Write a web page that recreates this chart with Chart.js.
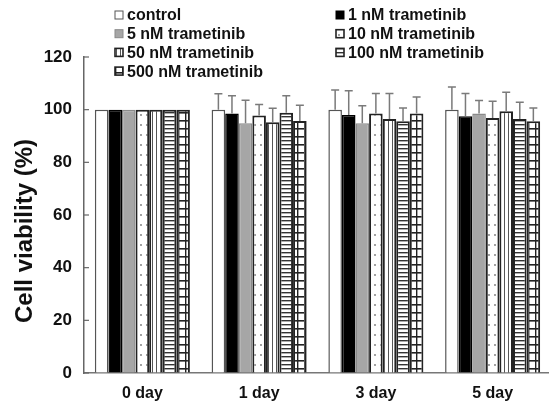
<!DOCTYPE html>
<html>
<head>
<meta charset="utf-8">
<script src="https://cdn.jsdelivr.net/npm/chart.js@4.4.1/dist/chart.umd.min.js"></script>
<style>
  html, body { margin: 0; padding: 0; background: #fff; overflow: hidden; }
  #wrap { width: 560px; height: 407px; }
</style>
</head>
<body>
<div id="wrap"><canvas id="viability-chart" width="560" height="407"></canvas></div>
<script>
// Data (mean and upper SD, % of control)
const categories = ['0 day', '1 day', '3 day', '5 day'];
const seriesLabels = ['control', '1 nM trametinib', '5 nM trametinib', '10 nM trametinib',
                      '50 nM trametinib', '100 nM trametinib', '500 nM trametinib'];

const control   = [100, 100, 100, 100];
const nM1       = [100, 98.5, 98.0, 97.5];
const nM5       = [100, 94.8, 94.8, 98.5];
const nM10      = [100, 97.8, 98.5, 96.8];
const nM50      = [100, 95.2, 96.5, 99.4];
const nM100     = [100, 98.8, 95.6, 96.5];
const nM500     = [100, 95.7, 98.5, 95.6];

const controlErr = [0, 6.0, 7.5, 8.6];
const nM1Err     = [0, 6.8, 9.2, 8.6];
const nM5Err     = [0, 8.8, 6.7, 5.0];
const nM10Err    = [0, 4.2, 7.6, 6.4];
const nM50Err    = [0, 5.3, 9.6, 7.2];
const nM100Err   = [0, 6.5, 5.0, 6.3];
const nM500Err   = [0, 6.0, 6.3, 5.0];

const yTicks = { min: 0, max: 120, step: 20 };

// pattern fills for the hatched bars
function makePattern(kind) {
    const c = document.createElement('canvas');
    const g = c.getContext('2d');
    if (kind === 'dots') {
        c.width = 6; c.height = 10;
        g.fillStyle = '#fff'; g.fillRect(0, 0, 6, 10);
        g.fillStyle = '#777';
        g.beginPath(); g.arc(3, 5, 0.9, 0, Math.PI * 2); g.fill();
    } else if (kind === 'vlines') {
        c.width = 4; c.height = 4;
        g.fillStyle = '#fff'; g.fillRect(0, 0, 4, 4);
        g.fillStyle = '#555'; g.fillRect(0, 0, 1, 4);
    } else if (kind === 'hlines') {
        c.width = 4; c.height = 4;
        g.fillStyle = '#fff'; g.fillRect(0, 0, 4, 4);
        g.fillStyle = '#333'; g.fillRect(0, 0, 4, 1.4);
    } else {
        c.width = 7; c.height = 8;
        g.fillStyle = '#fff'; g.fillRect(0, 0, 7, 8);
        g.fillStyle = '#222';
        g.fillRect(0, 0, 7, 1.6);
        g.fillRect(3, 0, 1.4, 8);
    }
    return g.createPattern(c, 'repeat');
}

const means = [control, nM1, nM5, nM10, nM50, nM100, nM500];
const errs = [controlErr, nM1Err, nM5Err, nM10Err, nM50Err, nM100Err, nM500Err];
const fills = ['#ffffff', '#000000', '#a6a6a6', makePattern('dots'),
               makePattern('vlines'), makePattern('hlines'), makePattern('grid')];
const borders = ['#555', '#000', '#8a8a8a', '#222', '#222', '#222', '#222'];
const borderWidths = [1.5, 1.5, 1.5, 2, 2, 2, 2];

const errorBars = {
    id: 'errorBars',
    afterDatasetsDraw(chart) {
        const ctx = chart.ctx;
        const y = chart.scales.y;
        ctx.save();
        ctx.strokeStyle = '#7a7a7a';
        ctx.lineWidth = 1.5;
        chart.data.datasets.forEach((ds, i) => {
            const meta = chart.getDatasetMeta(i);
            meta.data.forEach((bar, j) => {
                const e = ds.errors[j];
                if (!e) return;
                const top = y.getPixelForValue(ds.data[j] + e);
                ctx.beginPath();
                ctx.moveTo(bar.x, bar.y);
                ctx.lineTo(bar.x, top);
                ctx.moveTo(bar.x - 4, top);
                ctx.lineTo(bar.x + 4, top);
                ctx.stroke();
            });
        });
        ctx.restore();
    }
};

const extras = {
    id: 'extras',
    afterDraw(chart) {
        const ctx = chart.ctx;
        const y = chart.scales.y;
        const left = chart.chartArea.left;
        ctx.save();
        // inward tick marks
        ctx.strokeStyle = '#666';
        ctx.lineWidth = 1.2;
        y.ticks.forEach(t => {
            const py = y.getPixelForValue(t.value);
            ctx.beginPath();
            ctx.moveTo(left, py);
            ctx.lineTo(left + 5, py);
            ctx.stroke();
        });
        // y axis title
        ctx.fillStyle = '#111';
        ctx.font = 'bold 24px "Liberation Sans", Arial, sans-serif';
        ctx.textAlign = 'center';
        ctx.textBaseline = 'middle';
        ctx.translate(25, 231);
        ctx.rotate(-Math.PI / 2);
        ctx.fillText('Cell viability (%)', 0, 0);
        ctx.restore();

        // legend, two columns
        ctx.save();
        ctx.font = 'bold 16px "Liberation Sans", Arial, sans-serif';
        ctx.textBaseline = 'middle';
        ctx.textAlign = 'left';
        chart.data.datasets.forEach((ds, i) => {
            const col = i % 2;
            const row = Math.floor(i / 2);
            const bx = col ? 336 : 115;
            const by = 15 + row * 18.7;
            ctx.fillStyle = ds.backgroundColor;
            ctx.fillRect(bx, by - 4, 8, 8);
            ctx.strokeStyle = ds.borderColor;
            ctx.lineWidth = ds.borderWidth > 1.5 ? 1.6 : 1;
            ctx.strokeRect(bx, by - 4, 8, 8);
            ctx.fillStyle = '#111';
            ctx.fillText(ds.label, bx + 12, by + 1);
        });
        ctx.restore();
    }
};

const ctx = document.getElementById('viability-chart').getContext('2d');
new Chart(ctx, {
    type: 'bar',
    data: {
        labels: categories,
        datasets: seriesLabels.map((label, i) => ({
            label: label,
            data: means[i],
            errors: errs[i],
            backgroundColor: fills[i],
            borderColor: borders[i],
            borderWidth: borderWidths[i],
            categoryPercentage: 0.814,
            barPercentage: 1.0
        }))
    },
    options: {
        responsive: false,
        animation: false,
        layout: { padding: { top: 57, right: 9, left: 0, bottom: 0 } },
        plugins: {
            legend: { display: false },
            tooltip: { enabled: false }
        },
        scales: {
            x: {
                grid: { display: true, drawOnChartArea: false, drawTicks: false },
                border: { color: '#777', width: 1.5 },
                ticks: {
                    color: '#111',
                    padding: 11,
                    font: { family: '"Liberation Sans", Arial, sans-serif', size: 16, weight: 'bold' }
                },
                afterFit(scale) { scale.height = 34; }
            },
            y: {
                min: yTicks.min,
                max: yTicks.max,
                grid: { display: true, drawOnChartArea: false, drawTicks: false },
                border: { color: '#666', width: 1.5 },
                ticks: {
                    stepSize: yTicks.step,
                    color: '#111',
                    padding: 12,
                    font: { family: '"Liberation Sans", Arial, sans-serif', size: 17, weight: 'bold' }
                },
                afterFit(scale) { scale.width = 84; }
            }
        }
    },
    plugins: [errorBars, extras]
});
</script>
</body>
</html>
